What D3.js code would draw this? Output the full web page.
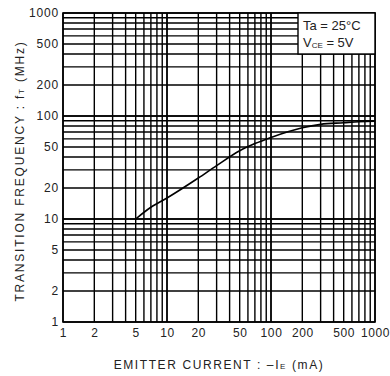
<!DOCTYPE html>
<html>
  <head>
    <script src="https://cdn.jsdelivr.net/npm/d3@7"></script>
    <style>
      body { margin: 0; background: #fff; }
      text { font-family: 'Liberation Sans', Arial, sans-serif; fill: #222; }
    </style>
  </head>
  <body>
    <div id="chart"></div>

    <script>
      // ========= Data ========= //
      const emitterCurrent = [5, 7, 10, 20, 30, 50, 70, 100, 200, 300, 500, 700, 1000];
      const transitionFreq = [10, 13, 16, 25, 33, 46, 54, 62, 77, 83, 86, 88, 89];
      const tickLabels = [1, 2, 5, 10, 20, 50, 100, 200, 500, 1000];

      // ========= Setup dimensions ========= //
      const width = 390;
      const height = 376;
      const margin = { top: 13, right: 15, bottom: 54, left: 63 };
      const innerW = width - margin.left - margin.right;
      const innerH = height - margin.top - margin.bottom;

      const svg = d3.select('#chart').append('svg')
        .attr('width', width)
        .attr('height', height);

      const g = svg.append('g')
        .attr('transform', `translate(${margin.left},${margin.top})`);

      // ========= Scales ========= //
      const x = d3.scaleLog().domain([1, 1000]).range([0, innerW]);
      const y = d3.scaleLog().domain([1, 1000]).range([innerH, 0]);

      // every integer step in each decade
      const gridVals = [];
      [1, 10, 100].forEach(d => {
        for (let k = 1; k <= 10; k++) gridVals.push(d * k);
      });

      // ========= Grid ========= //
      g.append('g').selectAll('line')
        .data(gridVals)
        .join('line')
          .attr('x1', d => x(d)).attr('x2', d => x(d))
          .attr('y1', 0).attr('y2', innerH)
          .attr('stroke', '#000')
          .attr('stroke-width', 1.4);

      g.append('g').selectAll('line')
        .data(gridVals)
        .join('line')
          .attr('y1', d => y(d)).attr('y2', d => y(d))
          .attr('x1', 0).attr('x2', innerW)
          .attr('stroke', '#000')
          .attr('stroke-width', 1.4);

      g.append('rect')
        .attr('width', innerW)
        .attr('height', innerH)
        .attr('fill', 'none')
        .attr('stroke', '#000')
        .attr('stroke-width', 1.6);

      // ========= Tick labels ========= //
      const xAxis = d3.axisBottom(x).tickValues(tickLabels).tickFormat(d3.format('d')).tickSize(0).tickPadding(6);
      const yAxis = d3.axisLeft(y).tickValues(tickLabels).tickFormat(d3.format('d')).tickSize(0).tickPadding(4);

      g.append('g')
        .attr('transform', `translate(0,${innerH})`)
        .call(xAxis)
        .call(s => s.select('.domain').remove())
        .selectAll('text')
          .attr('font-size', 12)
          .attr('letter-spacing', 0.6)
          .attr('fill', '#222');

      g.append('g')
        .call(yAxis)
        .call(s => s.select('.domain').remove())
        .selectAll('text')
          .attr('font-size', 12)
          .attr('letter-spacing', 0.8)
          .attr('fill', '#222');

      // ========= Curve ========= //
      const pts = emitterCurrent.map((c, i) => [c, transitionFreq[i]]);
      g.append('path')
        .datum(pts)
        .attr('fill', 'none')
        .attr('stroke', '#000')
        .attr('stroke-width', 1.6)
        .attr('d', d3.line().x(d => x(d[0])).y(d => y(d[1])).curve(d3.curveMonotoneX));

      // ========= Condition box ========= //
      const box = g.append('g').attr('transform', `translate(${innerW - 77},0)`);
      box.append('rect')
        .attr('width', 77)
        .attr('height', 41)
        .attr('fill', '#fff')
        .attr('stroke', '#000')
        .attr('stroke-width', 1.4);
      box.append('text')
        .attr('x', 5).attr('y', 17)
        .attr('font-size', 13)
        .text('Ta = 25°C');
      const vce = box.append('text')
        .attr('x', 5).attr('y', 34)
        .attr('font-size', 13);
      vce.append('tspan').text('V');
      vce.append('tspan').attr('font-size', 8).attr('dy', 1).text('CE');
      vce.append('tspan').attr('dy', -1).text(' = 5V');

      // ========= Axis titles ========= //
      const xt = svg.append('text')
        .attr('x', 219)
        .attr('y', 369)
        .attr('text-anchor', 'middle')
        .attr('font-size', 12)
        .attr('letter-spacing', 1.6);
      xt.append('tspan').text('EMITTER  CURRENT : \u2013I');
      xt.append('tspan').attr('font-size', 8).text('E');
      xt.append('tspan').text(' (mA)');

      const yt = svg.append('text')
        .attr('transform', 'translate(24,171) rotate(-90)')
        .attr('text-anchor', 'middle')
        .attr('font-size', 12)
        .attr('letter-spacing', 1.8);
      yt.append('tspan').text('TRANSITION  FREQUENCY : f');
      yt.append('tspan').attr('font-size', 8).text('T');
      yt.append('tspan').text(' (MHz)');
    </script>
  </body>
</html>
